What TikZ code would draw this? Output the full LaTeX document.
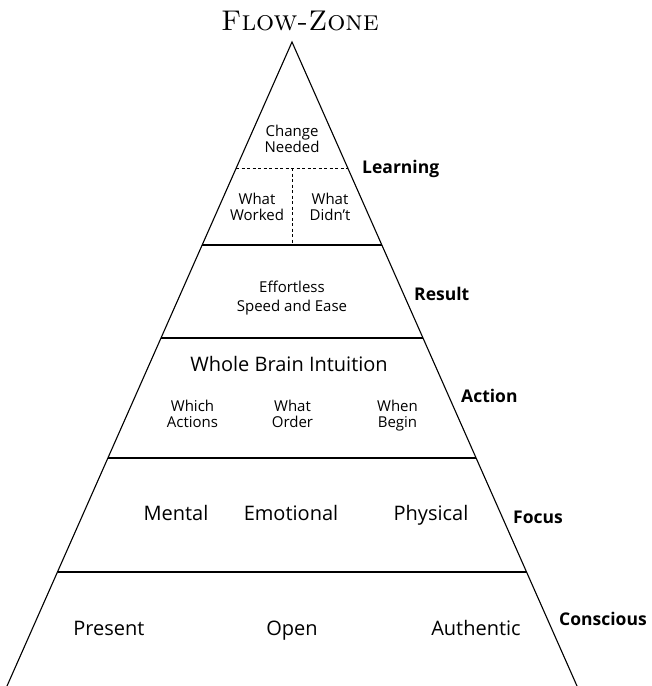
\documentclass[tikz,border=0pt]{standalone}
\usepackage{fontspec}
\setsansfont{Open Sans}
\usetikzlibrary{positioning}
\tikzstyle{small} = [font=\sffamily\fontsize{15}{15.5}\selectfont, align=center, anchor=base, inner sep=0pt]
\tikzstyle{medium} = [font=\sffamily\fontsize{20}{24}\selectfont, anchor=base, inner sep=0pt]
\tikzstyle{side} = [font=\sffamily\bfseries\fontsize{17.5}{20}\selectfont, anchor=base west, inner sep=0pt]
\tikzstyle{divider} = [line width=1.1pt]
\tikzstyle{split} = [line width=0.8pt, dashed, dash pattern=on 3pt off 2.5pt]

\begin{document}
\begin{tikzpicture}[x=1pt, y=-1pt]
    \useasboundingbox (0,0) rectangle (652,686);

    % pyramid outline
    \coordinate (apex) at (292,42);
    \coordinate (baseleft) at (7,686);
    \coordinate (baseright) at (577,686);
    \draw[divider, line join=miter] (baseleft) -- (apex) -- (baseright);

    % band dividers
    \coordinate (l1) at (202.2,245); \coordinate (r1) at (381.8,245);
    \coordinate (l2) at (161,338);   \coordinate (r2) at (423,338);
    \coordinate (l3) at (108,458);   \coordinate (r3) at (476,458);
    \coordinate (l4) at (57.5,572);  \coordinate (r4) at (526.5,572);
    \draw[divider] (l1) -- (r1);
    \draw[divider] (l2) -- (r2);
    \draw[divider] (l3) -- (r3);
    \draw[divider] (l4) -- (r4);

    % learning split
    \coordinate (dl) at (236.2,168); \coordinate (dr) at (347.8,168);
    \coordinate (dtop) at (292,168); \coordinate (dbot) at (292,245);
    \draw[split] (dl) -- (dr);
    \draw[split] (dtop) -- (dbot);

    \node (title) [anchor=base, inner sep=0pt] at (300,30) {\fontsize{28.5}{30}\selectfont\textsc{Flow-Zone}};

    % learning (base = last line)
    \node (change) [small] at (292,152) {Change\\Needed};
    \node (worked) [small] at (257,220) {What\\Worked};
    \node (didnt) [small] at (330,220) {What\\Didn't};
    \node (learning) [side] at (362,173) {Learning};

    % result
    \node (effort) [small, font=\sffamily\fontsize{15}{19}\selectfont] at (292,311.5) {Effortless\\Speed and Ease};
    \node (result) [side] at (414,300.5) {Result};

    % action
    \node (brain) [medium] at (289,371.5) {Whole Brain Intuition};
    \node (which) [small, font=\sffamily\fontsize{15}{16}\selectfont] at (192.5,427) {Which\\Actions};
    \node (order) [small, font=\sffamily\fontsize{15}{16}\selectfont] at (292.5,427) {What\\Order};
    \node (when) [small, font=\sffamily\fontsize{15}{16}\selectfont] at (397.5,427) {When\\Begin};
    \node (action) [side] at (461,402) {Action};

    % focus
    \node (mental) [medium] at (176,520) {Mental};
    \node (emotional) [medium] at (291,520) {Emotional};
    \node (physical) [medium] at (431,520) {Physical};
    \node (focus) [side] at (513,523) {Focus};

    % conscious
    \node (present) [medium] at (109,635) {Present};
    \node (open) [medium] at (292,635) {Open};
    \node (authentic) [medium] at (476,635) {Authentic};
    \node (conscious) [side] at (559,625) {Conscious};
\end{tikzpicture}
\end{document}
